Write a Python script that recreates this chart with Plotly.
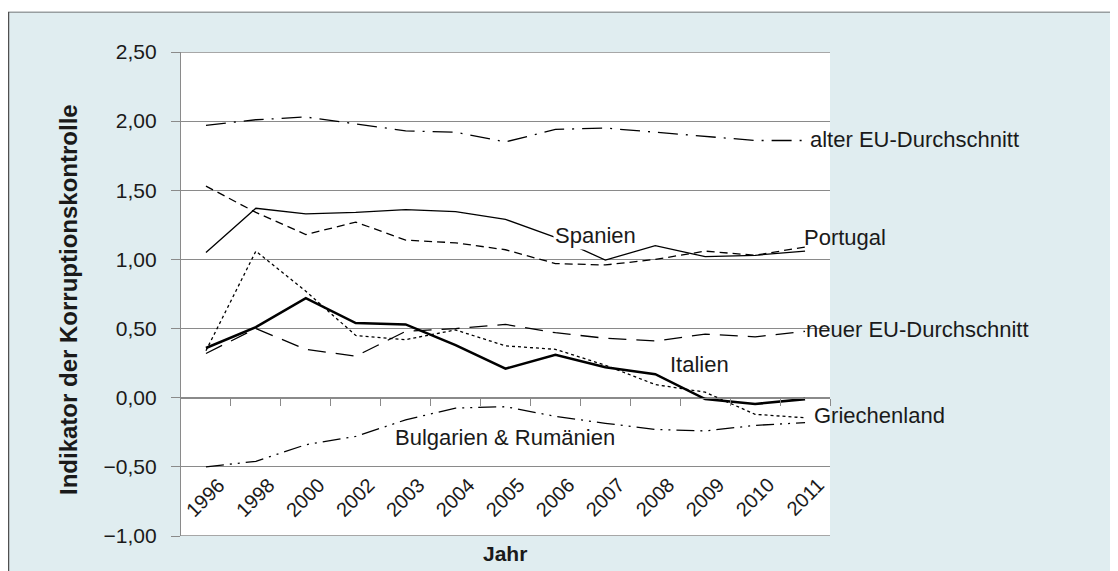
import plotly.graph_objects as go

years = ["1996", "1998", "2000", "2002", "2003", "2004", "2005", "2006", "2007", "2008", "2009", "2010", "2011"]

spanien = [1.05, 1.37, 1.33, 1.34, 1.36, 1.345, 1.29, 1.16, 0.995, 1.10, 1.02, 1.03, 1.06]
portugal = [1.53, 1.34, 1.18, 1.27, 1.14, 1.12, 1.07, 0.97, 0.96, 1.00, 1.06, 1.03, 1.09]
italien = [0.36, 0.51, 0.72, 0.54, 0.53, 0.38, 0.21, 0.31, 0.22, 0.17, -0.01, -0.045, -0.01]
griechenland = [0.34, 1.06, 0.77, 0.45, 0.42, 0.49, 0.375, 0.35, 0.235, 0.095, 0.04, -0.12, -0.145]
neuer_eu = [0.32, 0.50, 0.35, 0.30, 0.48, 0.50, 0.53, 0.47, 0.43, 0.41, 0.46, 0.44, 0.48]
alter_eu = [1.97, 2.01, 2.03, 1.98, 1.93, 1.92, 1.85, 1.94, 1.95, 1.92, 1.89, 1.86, 1.86]
bulg_rum = [-0.50, -0.46, -0.34, -0.28, -0.16, -0.075, -0.065, -0.135, -0.185, -0.23, -0.24, -0.20, -0.18]

y_ticks = [-1.0, -0.5, 0.0, 0.5, 1.0, 1.5, 2.0, 2.5]
y_ticktext = ["\u22121,00", "\u22120,50", "0,00", "0,50", "1,00", "1,50", "2,00", "2,50"]

series = [
    ("Spanien", spanien, dict(color="black", width=1.3, dash="solid")),
    ("Portugal", portugal, dict(color="black", width=1.3, dash="8px,5px")),
    ("Griechenland", griechenland, dict(color="black", width=1.3, dash="3px,3px")),
    ("neuer EU-Durchschnitt", neuer_eu, dict(color="black", width=1.3, dash="18px,10px")),
    ("alter EU-Durchschnitt", alter_eu, dict(color="black", width=1.3, dash="20px,8px,2px,8px")),
    ("Bulgarien & Rumänien", bulg_rum, dict(color="black", width=1.3, dash="18px,6px,2px,6px,2px,6px")),
    ("Italien", italien, dict(color="black", width=2.6, dash="solid")),
]

FONT = "Liberation Sans, Arial, sans-serif"
OFF = 8  # page body margin
W, H = 1118 - OFF, 571 - OFF
L, T = 181 - OFF, 52 - OFF
R = W - (830 - OFF)
B = H - (536 - OFF)
pw, ph = W - L - R, H - T - B

def px_x(p):
    p = p - OFF
    return (p - L) / pw

def px_y(p):
    p = p - OFF
    return (H - B - p) / ph

fig = go.Figure()
xs = list(range(len(years)))
for name, vals, line in series:
    fig.add_trace(go.Scatter(x=xs, y=vals, mode="lines", name=name, line=line,
                             showlegend=False, hoverinfo="skip"))

grid_col = "#8a8a8a"
fig.update_layout(
    width=W, height=H,
    margin=dict(l=L, r=R, t=T, b=B),
    paper_bgcolor="#E0EDF0",
    plot_bgcolor="white",
    font=dict(family=FONT, color="#1a1a1a"),
    xaxis=dict(range=[-0.5, len(years) - 0.5], anchor="free", position=1.0 / 3.5,
               tickvals=[i + 0.5 for i in range(len(years))],
               showticklabels=False, ticks="outside", ticklen=7, tickcolor=grid_col,
               showline=True, linecolor=grid_col, linewidth=1.3,
               showgrid=False, zeroline=False),
    yaxis=dict(range=[-1.0, 2.5], tickvals=y_ticks, ticktext=y_ticktext,
               tickfont=dict(size=21, color="#1a1a1a"),
               ticks="outside", ticklen=9, tickcolor=grid_col, ticklabelstandoff=10,
               showline=True, linecolor=grid_col, linewidth=1.3,
               showgrid=True, gridcolor=grid_col, gridwidth=1.3, zeroline=False),
)

# frame lines at top and bottom of value range
for yv in (2.5, -1.0):
    fig.add_shape(type="line", xref="x domain", yref="y", x0=0, x1=1, y0=yv, y1=yv,
                  line=dict(color=grid_col, width=1.3), layer="below")

# category labels, rotated, inside the plot area
for i, yr in enumerate(years):
    fig.add_annotation(x=i, y=-0.72, xref="x", yref="y", text=yr, textangle=-45,
                       showarrow=False, font=dict(size=20, color="#1a1a1a"),
                       xanchor="center", yanchor="middle")

# series labels
labels = [
    ("alter EU-Durchschnitt", 12.06, 1.87, None),
    ("Portugal", 11.94, 1.16, None),
    ("neuer EU-Durchschnitt", 11.98, 0.49, None),
    ("Griechenland", 12.14, -0.125, None),
    ("Spanien", 6.95, 1.175, "white"),
    ("Italien", 9.26, 0.24, None),
    ("Bulgarien & Rumänien", 3.75, -0.29, None),
]
for text, xv, yv, bg in labels:
    fig.add_annotation(x=xv, y=yv, xref="x", yref="y", text=text, showarrow=False,
                       xanchor="left", yanchor="middle", bgcolor=bg,
                       font=dict(size=22, color="#1a1a1a"))

# axis titles
fig.add_annotation(x=px_x(68), y=px_y(300), xref="paper", yref="paper",
                   text="<b>Indikator der Korruptionskontrolle</b>", textangle=-90,
                   showarrow=False, font=dict(size=24, color="#1a1a1a"),
                   xanchor="center", yanchor="middle")
fig.add_annotation(x=px_x(505), y=px_y(553), xref="paper", yref="paper",
                   text="<b>Jahr</b>", showarrow=False,
                   font=dict(size=21, color="#1a1a1a"),
                   xanchor="center", yanchor="middle")

# panel border (left and top)
fig.add_shape(type="line", xref="paper", yref="paper", x0=px_x(8.5), x1=px_x(8.5), y0=px_y(12), y1=px_y(580),
              line=dict(color="#505050", width=1.5), layer="above")
fig.add_shape(type="line", xref="paper", yref="paper", x0=px_x(8), x1=px_x(1130), y0=px_y(12), y1=px_y(12),
              line=dict(color="#505050", width=1.2), layer="above")
fig.add_shape(type="rect", xref="paper", yref="paper", x0=px_x(0), x1=px_x(1130), y0=px_y(11.4), y1=px_y(0),
              fillcolor="white", line=dict(width=0), layer="above")

fig.write_html("out.html")
